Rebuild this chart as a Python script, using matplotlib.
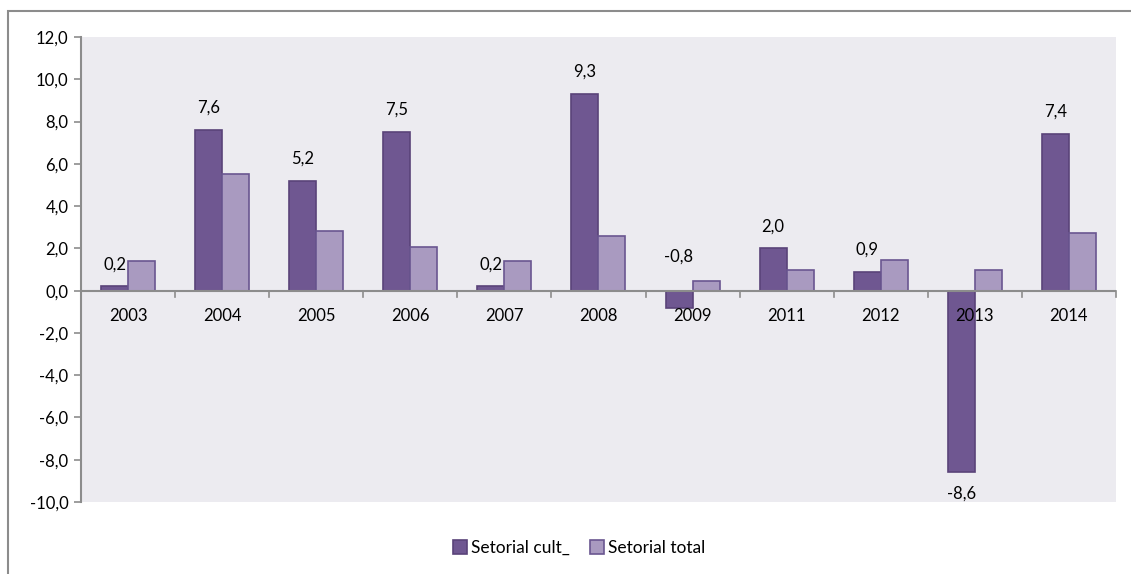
import matplotlib.pyplot as plt
import matplotlib.patches as patches
import numpy as np

anos = ["2003", "2004", "2005", "2006", "2007", "2008", "2009", "2011", "2012", "2013", "2014"]
setorial_cult = [0.2, 7.6, 5.2, 7.5, 0.2, 9.3, -0.8, 2.0, 0.9, -8.6, 7.4]
setorial_total = [1.4, 5.5, 2.8, 2.05, 1.4, 2.6, 0.45, 1.0, 1.45, 1.0, 2.75]

cor_cult = "#6f5791"
borda_cult = "#5a4379"
cor_total = "#a99ac0"
borda_total = "#6a5690"
cinza = "#8c8c8c"

plt.rcParams["font.family"] = ["Lato", "DejaVu Sans"]

fig = plt.figure(figsize=(11.31, 5.74), dpi=100)
ax = fig.add_axes([0.0716, 0.1254, 0.9151, 0.8101])
ax.set_facecolor("#ecebf0")

# moldura externa do grafico
fig.patches.append(patches.Rectangle((8 / 1131, -0.05), 1.2, 1 - 11 / 574 + 0.05,
                                     transform=fig.transFigure, fill=False,
                                     edgecolor=cinza, lw=1.5))

x = np.arange(len(anos))
w = 0.287
ax.bar(x - w / 2, setorial_cult, w, color=cor_cult, edgecolor=borda_cult, lw=1.2,
       label="Setorial cult_", zorder=2)
ax.bar(x + w / 2, setorial_total, w, color=cor_total, edgecolor=borda_total, lw=1.2,
       label="Setorial total", zorder=2)

# rotulos dos valores da serie cultural
for xi, v in zip(x, setorial_cult):
    txt = f"{v:.1f}".replace(".", ",")
    if v < -2:
        ax.text(xi - w / 2, v - 1.0, txt, ha="center", va="center", fontsize=12, zorder=4)
    else:
        base = max(v, 0)
        extra = 1.6 if v < 0 else 1.05
        ax.text(xi - w / 2, base + extra, txt, ha="center", va="center", fontsize=12, zorder=4)

# eixo horizontal no zero com marcas entre categorias
ax.axhline(0, color=cinza, lw=1.5, zorder=3)
for b in np.arange(len(anos) + 1) - 0.5:
    ax.plot([b, b], [0, -0.3], color=cinza, lw=1.2, zorder=3, clip_on=False)
for xi, a in zip(x, anos):
    ax.text(xi, -1.2, a, ha="center", va="center", fontsize=12, zorder=4)

ax.set_xlim(-0.5, len(anos) - 0.5)
ax.set_ylim(-10, 12)
ax.set_yticks(np.arange(-10, 13, 2))
ax.set_yticklabels([f"{t:.1f}".replace(".", ",") for t in np.arange(-10, 13, 2)], fontsize=12)
ax.set_xticks([])
ax.tick_params(axis="y", length=5, color=cinza, width=1.2, pad=4)
for s in ["top", "right", "bottom"]:
    ax.spines[s].set_visible(False)
ax.spines["left"].set_color(cinza)
ax.spines["left"].set_linewidth(1.5)

fig.legend(loc="center", bbox_to_anchor=(0.512, 1 - 548 / 574), ncol=2, frameon=False,
           fontsize=12.5, handlelength=0.8, handleheight=0.8, handletextpad=0.2,
           columnspacing=1.2)

fig.savefig("out.png", dpi=100)
